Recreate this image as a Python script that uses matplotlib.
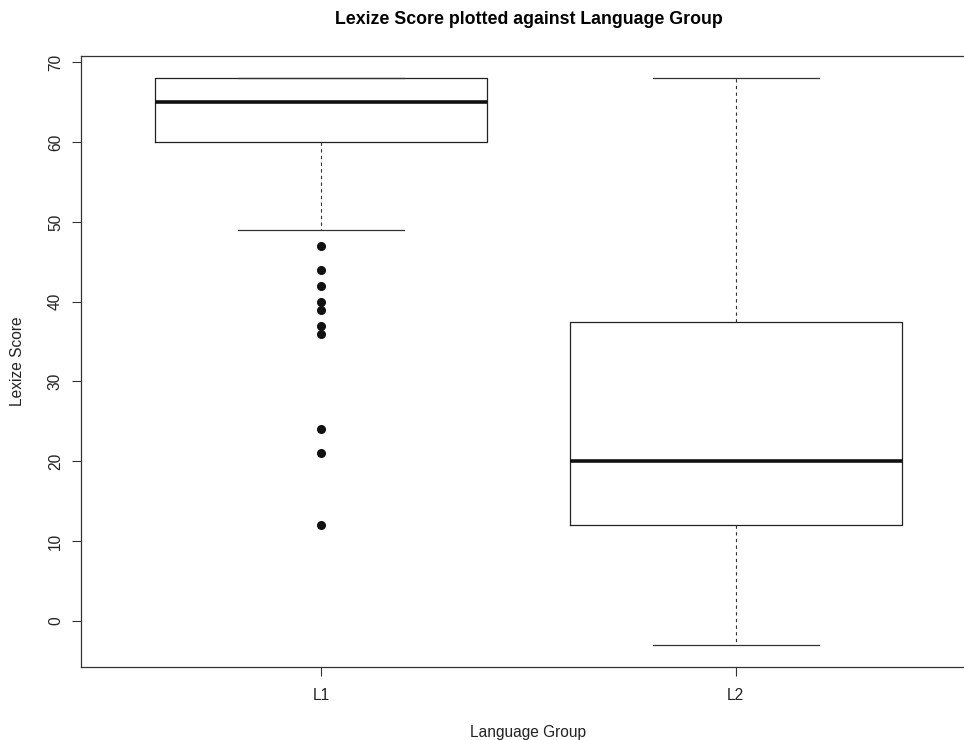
import matplotlib
matplotlib.use("Agg")
import matplotlib.pyplot as plt

plt.rcParams["font.family"] = ["Liberation Sans", "DejaVu Sans"]

# Summary statistics per language group
groups = ["L1", "L2"]
q1 = [60, 12]
median = [65, 20]
q3 = [68, 37.5]
whisker_low = [49, -3]
whisker_high = [68, 68]
outliers = [
    [47, 44, 42, 40, 39, 37, 36, 24, 21, 12],
    [],
]

stats = []
for i, name in enumerate(groups):
    stats.append({
        "label": name,
        "q1": q1[i],
        "med": median[i],
        "q3": q3[i],
        "whislo": whisker_low[i],
        "whishi": whisker_high[i],
        "fliers": outliers[i],
    })

fig = plt.figure(figsize=(9.64, 7.4), dpi=100)
ax = fig.add_axes([0.0837, 0.0982, 0.929, 0.8265])

ax.bxp(
    stats,
    positions=[1, 2],
    widths=0.8,
    showfliers=True,
    boxprops=dict(color="#222222", linewidth=0.9),
    medianprops=dict(color="#111111", linewidth=2.6),
    whiskerprops=dict(color="#333333", linewidth=0.8, linestyle=(0, (3, 3))),
    capprops=dict(color="#333333", linewidth=0.9),
    capwidths=0.4,
    flierprops=dict(marker="o", markerfacecolor="#111111",
                    markeredgecolor="#111111", markersize=5.5),
)

ax.set_xlim(0.42, 2.58)
ax.set_ylim(-5.84, 70.84)
ax.set_yticks([0, 10, 20, 30, 40, 50, 60, 70])
ax.set_xticks([1, 2])
ax.set_xticklabels(groups)

for side in ["left", "bottom", "top", "right"]:
    ax.spines[side].set_linewidth(0.9)
    ax.spines[side].set_color("#333333")

ax.tick_params(axis="both", direction="out", length=6.8, width=0.8,
               colors="#333333", labelcolor="#222222", labelsize=11.2)
ax.tick_params(axis="y", pad=6)
ax.tick_params(axis="x", pad=8)
for lab in ax.get_yticklabels():
    lab.set_rotation(90)
    lab.set_va("center")

ax.set_xlabel("Language Group", fontsize=11.2, color="#222222", va="baseline")
ax.xaxis.set_label_coords(0.5, -0.1139)
ax.set_ylabel("Lexize Score", fontsize=11.2, color="#222222", va="center")
ax.yaxis.set_label_coords(-0.0706, 0.5)
fig.text(0.5488, 0.973, "Lexize Score plotted against Language Group",
         ha="center", va="center", fontsize=12.8, fontweight="bold")

fig.savefig("out.png", dpi=100)
